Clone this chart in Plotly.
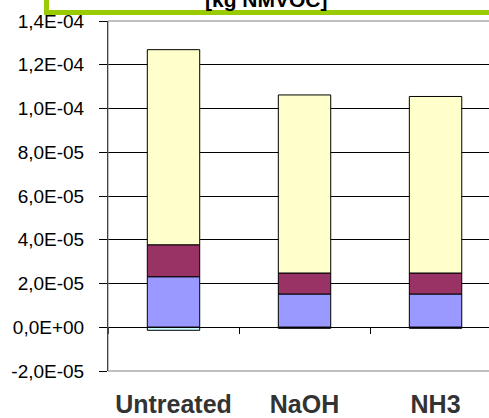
import plotly.graph_objects as go

categories = ["Untreated", "NaOH", "NH3"]
series_blue = [2.31e-5, 1.52e-5, 1.52e-5]
series_maroon = [1.46e-5, 0.96e-5, 0.96e-5]
series_yellow = [8.92e-5, 8.14e-5, 8.07e-5]
series_cyan = [-1.4e-6, -0.5e-6, -0.5e-6]

y_tickvals = [-2e-5, 0, 2e-5, 4e-5, 6e-5, 8e-5, 1.0e-4, 1.2e-4, 1.4e-4]
y_ticktext = ["-2,0E-05", "0,0E+00", "2,0E-05", "4,0E-05", "6,0E-05",
              "8,0E-05", "1,0E-04", "1,2E-04", "1,4E-04"]
unit_text = "[kg NMVOC]"

colors = ["#9999FF", "#993366", "#FFFFCC", "#CCFFFF"]

fig = go.Figure()
for vals, col in zip([series_blue, series_maroon, series_yellow, series_cyan], colors):
    fig.add_trace(go.Bar(
        x=categories, y=vals, width=0.4,
        marker=dict(color=col, line=dict(color="black", width=1)),
        showlegend=False,
    ))

fig.update_layout(
    width=489, height=418,
    margin=dict(l=108, r=0, t=21, b=47),
    barmode="relative",
    plot_bgcolor="white", paper_bgcolor="white",
    font=dict(family="Liberation Sans, Arial, sans-serif", color="black"),
    xaxis=dict(
        type="category", range=[-0.5, 2.408],
        anchor="free", position=0.1249,
        showline=True, linecolor="black", linewidth=1,
        ticks="outside", ticklen=6, tickcolor="black", tickwidth=1,
        tickson="boundaries", showgrid=False, zeroline=False,
        ticklabelstandoff=55,
        tickfont=dict(size=25, color="#333333", weight="bold"),
    ),
    yaxis=dict(
        range=[-2e-5, 1.4e-4],
        tickvals=y_tickvals, ticktext=y_ticktext,
        showline=True, linecolor="black", linewidth=1,
        ticks="outside", ticklen=8, tickcolor="black",
        showgrid=True, gridcolor="black", gridwidth=1,
        zeroline=False,
        ticklabelstandoff=11,
        tickfont=dict(size=19, color="black"),
    ),
    shapes=[
        dict(type="rect", xref="paper", yref="paper", x0=0, x1=1.05, y0=0, y1=1,
             line=dict(color="#808080", width=1), layer="above"),
        dict(type="rect", xref="paper", yref="paper", x0=-0.1614, x1=1.2, y0=1.0243, y1=1.3,
             line=dict(color="#99CC00", width=5), fillcolor="white", layer="above"),
    ],
    annotations=[
        dict(text=unit_text, xref="paper", yref="paper", x=0.4155, y=1.0215,
             xanchor="center", yanchor="bottom", showarrow=False,
             font=dict(size=21, color="black", weight="bold")),
    ],
)

fig.write_html("out.html")
